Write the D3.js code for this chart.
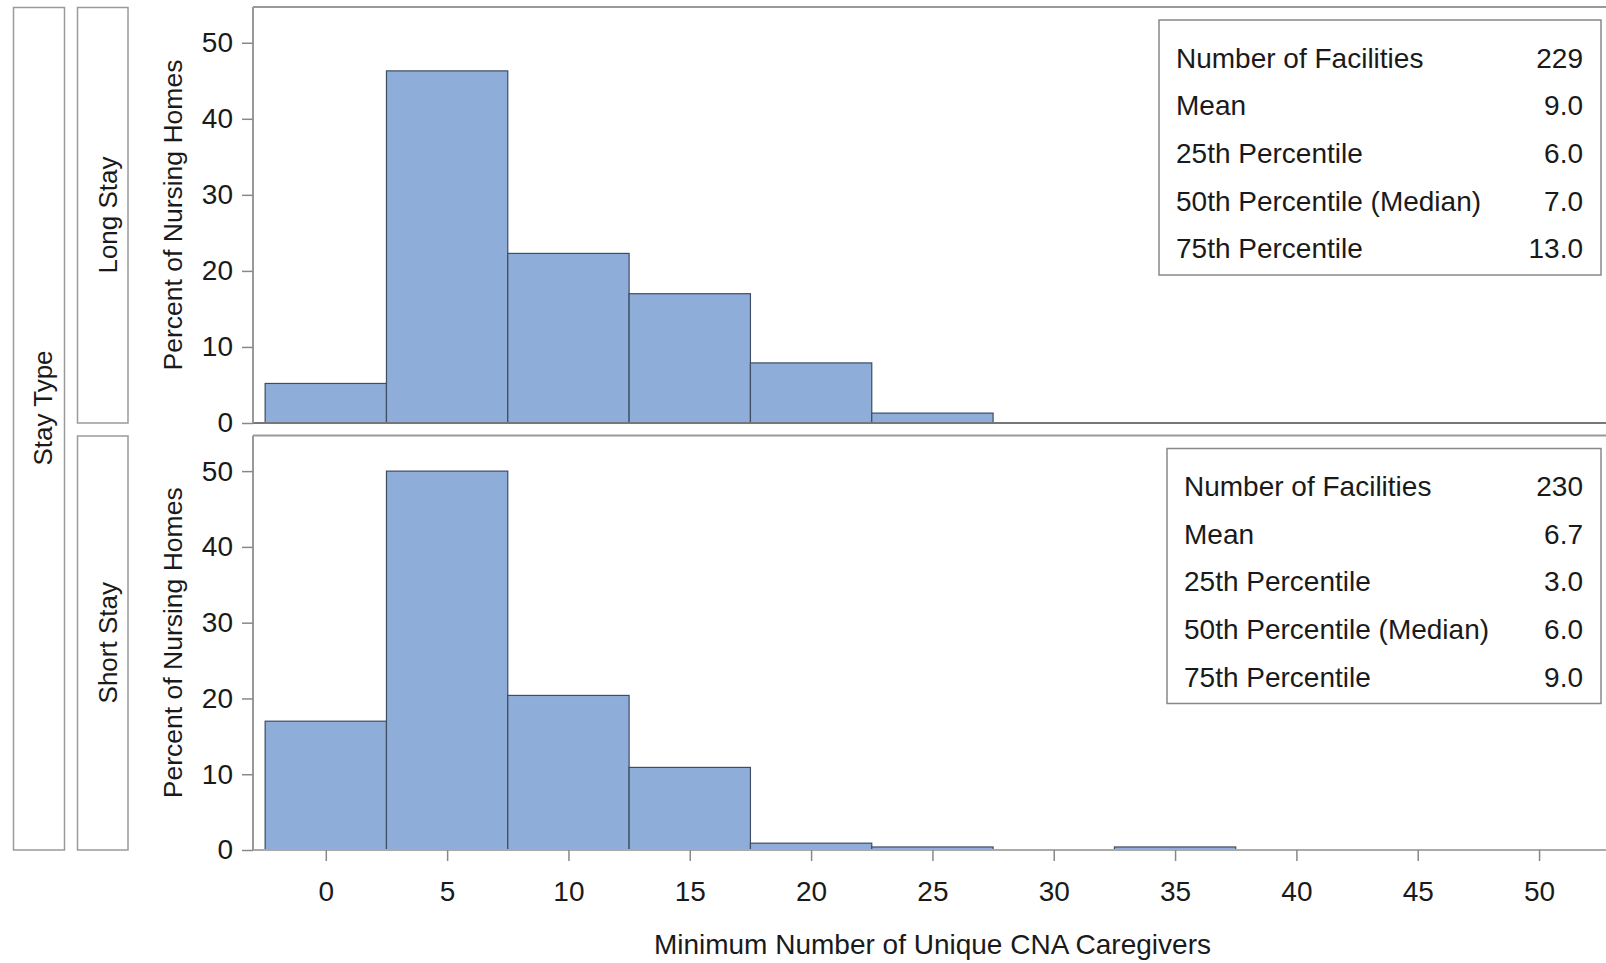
<!DOCTYPE html>
<html>

<head>
    <title>CNA Caregivers Histogram</title>
    <meta charset="UTF-8">
    <script src="https://d3js.org/d3.v7.min.js"></script>
    <style type="text/css">
        body { margin: 0; background: #fff; }
        svg text { font-family: "Liberation Sans", Arial, sans-serif; fill: #1a1a1a; }
    </style>
</head>

<body>
    <script type="text/javascript">
        // Histogram data (percent of nursing homes per bin, bins centered on these values)
        var binCenters = [0, 5, 10, 15, 20, 25, 30, 35, 40, 45, 50];
        var longStayPct = [5.2, 46.3, 22.3, 17.0, 7.9, 1.3, 0, 0, 0, 0, 0];
        var shortStayPct = [17.0, 50.0, 20.4, 10.9, 0.9, 0.4, 0, 0.4, 0, 0, 0];
        var binWidth = 5;

        var xTicks = [0, 5, 10, 15, 20, 25, 30, 35, 40, 45, 50];
        var yTicks = [0, 10, 20, 30, 40, 50];

        var statLabels = ["Number of Facilities", "Mean", "25th Percentile", "50th Percentile (Median)", "75th Percentile"];
        var longStayStats = ["229", "9.0", "6.0", "7.0", "13.0"];
        var shortStayStats = ["230", "6.7", "3.0", "6.0", "9.0"];

        var panels = [
            { name: "Long Stay", values: longStayPct, stats: longStayStats, top: 7, bottom: 423, boxLeft: 1159, lineColor: "#777" },
            { name: "Short Stay", values: shortStayPct, stats: shortStayStats, top: 435.5, bottom: 850, boxLeft: 1167, lineColor: "#aaa" }
        ];

        var width = 1606, height = 963;
        var plotLeft = 253, plotRight = 1607;

        var svg = d3.select("body").append("svg")
            .attr("width", width)
            .attr("height", height);

        // Shared x scale
        var x = d3.scaleLinear().domain([-3, 52.8]).range([plotLeft, plotRight]);

        // Outer strip "Stay Type"
        svg.append("rect")
            .attr("x", 13.5).attr("y", 7.5).attr("width", 51).attr("height", 842.5)
            .attr("fill", "none").attr("stroke", "#9a9a9a").attr("stroke-width", 1.5);
        svg.append("text")
            .attr("transform", "translate(52,408) rotate(-90)")
            .attr("text-anchor", "middle")
            .style("font-size", "26px")
            .text("Stay Type");

        panels.forEach(function (p, i) {
            var y = d3.scaleLinear().domain([0, 54.7]).range([p.bottom, p.top]);

            // row strip
            svg.append("rect")
                .attr("x", 77.5).attr("y", p.top + 0.5).attr("width", 50.5).attr("height", p.bottom - p.top - 0.5)
                .attr("fill", "none").attr("stroke", "#9a9a9a").attr("stroke-width", 1.5);
            svg.append("text")
                .attr("transform", "translate(117," + ((p.top + p.bottom) / 2) + ") rotate(-90)")
                .attr("text-anchor", "middle")
                .style("font-size", "26px")
                .text(p.name);

            // y title
            svg.append("text")
                .attr("transform", "translate(182," + ((p.top + p.bottom) / 2) + ") rotate(-90)")
                .attr("text-anchor", "middle")
                .style("font-size", "26.5px")
                .text("Percent of Nursing Homes");

            // bars
            var data = binCenters.map(function (c, k) { return { c: c, v: p.values[k] }; })
                .filter(function (d) { return d.v > 0; });
            svg.append("g").selectAll("rect")
                .data(data)
                .enter().append("rect")
                .attr("x", function (d) { return x(d.c - binWidth / 2); })
                .attr("width", function (d) { return x(d.c + binWidth / 2) - x(d.c - binWidth / 2); })
                .attr("y", function (d) { return y(d.v); })
                .attr("height", function (d) { return y(0) - y(d.v); })
                .attr("fill", "#8fadd9")
                .attr("stroke", "#3d4d62")
                .attr("stroke-width", 1.2);

            // panel frame (top, left, bottom; right side runs off the page)
            svg.append("line")
                .attr("x1", plotLeft).attr("x2", width).attr("y1", p.top).attr("y2", p.top)
                .attr("stroke", "#999").attr("stroke-width", 2);
            svg.append("line")
                .attr("x1", plotLeft).attr("x2", width).attr("y1", p.bottom).attr("y2", p.bottom)
                .attr("stroke", p.lineColor).attr("stroke-width", 2);

            // y axis
            var yAxis = d3.axisLeft(y).tickValues(yTicks).tickSize(11).tickPadding(9);
            var ga = svg.append("g")
                .attr("transform", "translate(" + plotLeft + ",0)")
                .call(yAxis);
            ga.select(".domain").attr("stroke", "#999").attr("stroke-width", 2)
                .attr("d", "M0," + p.top + "V" + p.bottom);
            ga.selectAll(".tick line").attr("stroke", "#888").attr("stroke-width", 1.5);
            ga.selectAll(".tick text")
                .style("font-size", "28px")
                .style("font-family", "'Liberation Sans', Arial, sans-serif")
                .attr("fill", "#1a1a1a");

            // stats box
            var boxTop = p.top + 13;
            var boxRight = 1601;
            svg.append("rect")
                .attr("x", p.boxLeft).attr("y", boxTop)
                .attr("width", boxRight - p.boxLeft).attr("height", 255)
                .attr("fill", "#fff").attr("stroke", "#888").attr("stroke-width", 1.5);
            var rows = svg.append("g").selectAll("g")
                .data(statLabels)
                .enter().append("g");
            rows.append("text")
                .attr("x", p.boxLeft + 17)
                .attr("y", function (d, k) { return boxTop + 47.5 + k * 47.7; })
                .style("font-size", "28px")
                .text(function (d) { return d; });
            rows.append("text")
                .attr("x", boxRight - 18)
                .attr("y", function (d, k) { return boxTop + 47.5 + k * 47.7; })
                .attr("text-anchor", "end")
                .style("font-size", "28px")
                .text(function (d, k) { return p.stats[k]; });

            // x axis on the bottom panel only
            if (i === panels.length - 1) {
                var xAxis = d3.axisBottom(x).tickValues(xTicks).tickSize(11).tickPadding(20);
                var gx = svg.append("g")
                    .attr("transform", "translate(0," + p.bottom + ")")
                    .call(xAxis);
                gx.select(".domain").remove();
                gx.selectAll(".tick line").attr("stroke", "#888").attr("stroke-width", 1.5);
                gx.selectAll(".tick text")
                    .style("font-size", "28px")
                    .style("font-family", "'Liberation Sans', Arial, sans-serif")
                    .attr("fill", "#1a1a1a");
            }
        });

        // x title
        svg.append("text")
            .attr("x", x(25))
            .attr("y", 954)
            .attr("text-anchor", "middle")
            .style("font-size", "28px")
            .text("Minimum Number of Unique CNA Caregivers");
    </script>
</body>

</html>
